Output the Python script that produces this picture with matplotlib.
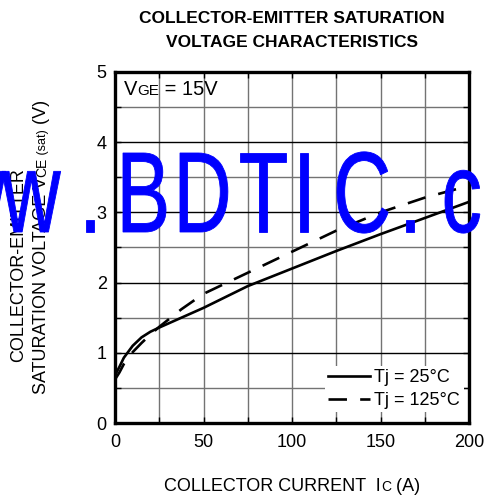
import matplotlib
matplotlib.use("Agg")
import matplotlib.pyplot as plt
from matplotlib.ticker import MultipleLocator
from matplotlib.textpath import TextPath
from matplotlib.patches import PathPatch
from matplotlib.font_manager import FontProperties
from matplotlib.transforms import Affine2D

# ── Data ──────────────────────────────────────────────────────────────────────

IC = [0, 2.5, 5, 10, 15, 20, 25, 37.5, 50, 75, 100, 125, 150, 175, 200]
VCE_25C = [0.68, 0.80, 0.93, 1.10, 1.22, 1.30, 1.36, 1.50, 1.64, 1.95, 2.20, 2.45, 2.69, 2.92, 3.15]
VCE_125C = [0.62, 0.72, 0.84, 1.01, 1.14, 1.26, 1.37, 1.62, 1.84, 2.14, 2.44, 2.74, 3.00, 3.21, 3.38]

SERIES_LABELS = ["Tj = 25°C", "Tj = 125°C"]
X_TICKS = [0, 50, 100, 150, 200]
Y_TICKS = [0, 1, 2, 3, 4, 5]

WATERMARK = "www.BDTIC.com"

# ── Figure geometry ───────────────────────────────────────────────────────────

W, H, DPI = 486, 499, 100
FONT = "Liberation Sans"
plt.rcParams["font.family"] = [FONT, "DejaVu Sans"]

fig = plt.figure(figsize=(W / DPI, H / DPI), dpi=DPI)
ax = fig.add_axes([115 / W, 1 - 423 / H, 354 / W, 351 / H])


def put_runs(x_px, y_px, runs, rotation=0):
    """Draw text pieces of mixed size one after another, centred on (x_px, y_px)
    in top-left pixel coords (baseline position)."""
    r = fig.canvas.get_renderer()
    arts = []
    for s, size in runs:
        arts.append(fig.text(0, 0, s, fontsize=size, rotation=rotation,
                             rotation_mode="anchor", ha="left", va="baseline"))
    sizes = []
    for t in arts:
        bb = t.get_window_extent(r)
        sizes.append(bb.width if rotation == 0 else bb.height)
    total = sum(sizes)
    if rotation == 0:
        pos = x_px - total / 2
        for t, w in zip(arts, sizes):
            t.set_position((pos / W, 1 - y_px / H))
            pos += w
    else:
        pos = (H - y_px) - total / 2
        for t, w in zip(arts, sizes):
            t.set_position((x_px / W, pos / H))
            pos += w


# ── Curves ────────────────────────────────────────────────────────────────────

ax.plot(IC, VCE_25C, color="black", lw=1.9, label=SERIES_LABELS[0], zorder=3)
ax.plot(IC, VCE_125C, color="black", lw=1.9, dashes=(7, 5), label=SERIES_LABELS[1], zorder=3)

ax.set_xlim(0, 200)
ax.set_ylim(0, 5)
ax.set_xticks(X_TICKS)
ax.set_yticks(Y_TICKS)
ax.xaxis.set_minor_locator(MultipleLocator(25))
ax.yaxis.set_minor_locator(MultipleLocator(0.5))
ax.tick_params(which="both", direction="in", top=True, right=True,
               length=4, width=1.0, labelsize=13, pad=6)
ax.tick_params(axis="x", pad=8)

ax.xaxis.grid(True, which="both", color="0.45", lw=1.0)
ax.yaxis.grid(True, which="minor", color="0.45", lw=1.0)
ax.yaxis.grid(True, which="major", color="black", lw=1.0)
ax.set_axisbelow(True)
for sp in ax.spines.values():
    sp.set_linewidth(2.4)

leg = ax.legend(loc="lower right", bbox_to_anchor=(0.985, 0.03), borderaxespad=0,
                fontsize=13, handlelength=2.3, handletextpad=0.25, labelspacing=0.3,
                borderpad=0.2, frameon=True, fancybox=False)
leg.get_frame().set_facecolor("white")
leg.get_frame().set_edgecolor("none")
leg.get_frame().set_alpha(1)

# ── Texts ─────────────────────────────────────────────────────────────────────

fig.text(292 / W, 1 - 23 / H, "COLLECTOR-EMITTER SATURATION", fontsize=12.5,
         fontweight="bold", ha="center", va="baseline")
fig.text(292 / W, 1 - 47 / H, "VOLTAGE CHARACTERISTICS", fontsize=12.5,
         fontweight="bold", ha="center", va="baseline")

put_runs(171, 95, [("V", 14.5), ("GE", 11), (" = 15V", 14.5)])
put_runs(292, 491, [("COLLECTOR CURRENT  I", 13), ("C", 10), (" (A)", 13)])
put_runs(23, 265, [("COLLECTOR-EMITTER", 13)], rotation=90)
put_runs(46, 247, [("SATURATION VOLTAGE V", 13), ("CE", 10), (" (sat)", 9), (" (V)", 13)],
         rotation=90)

# ── Watermark ─────────────────────────────────────────────────────────────────

fp = FontProperties(family=FONT)
ref = TextPath((0, 0), "B", size=100, prop=fp).get_extents()
sy = 79 / ref.height
sx = 43 / ref.width
pitch = 55
lefts = [2 - 2 * pitch, 2 - pitch, 2, 86, 123, 180, 240, 300, 337, 406, 445, 500, 555]
for ch, left in zip(WATERMARK, lefts):
    tp = TextPath((0, 0), ch, size=100, prop=fp)
    x0 = tp.get_extents().x0
    tr = (Affine2D().translate(-x0, 0).scale(sx / DPI, sy / DPI)
          .translate(left / DPI, (H - 232) / DPI) + fig.dpi_scale_trans)
    fig.patches.append(PathPatch(tp, transform=tr, facecolor=(0, 0, 1),
                                 edgecolor=(0, 0, 1), lw=0.6, zorder=10))

fig.savefig("out.png", dpi=DPI)
